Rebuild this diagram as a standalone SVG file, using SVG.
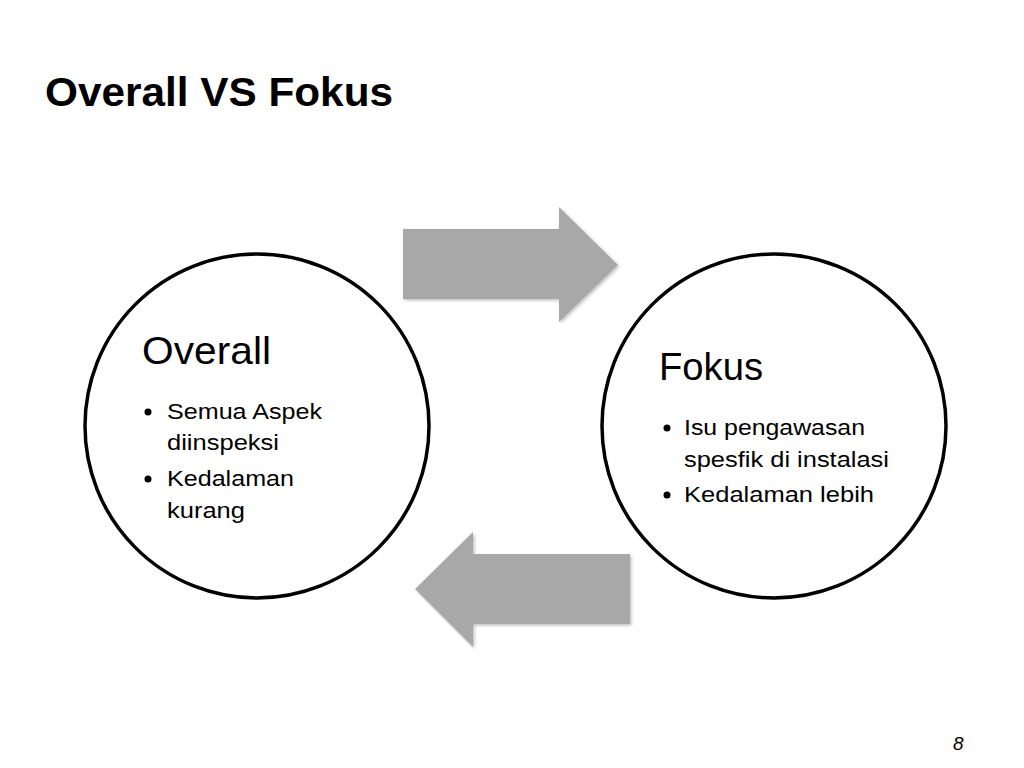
<svg xmlns="http://www.w3.org/2000/svg" width="1024" height="768" viewBox="0 0 1024 768">
<defs>
<filter id="sh" x="-10%" y="-10%" width="130%" height="130%">
<feDropShadow dx="1.5" dy="1.5" stdDeviation="1.5" flood-color="#000" flood-opacity="0.25"/>
</filter>
</defs>
<style>
.circ{fill:#fff;stroke:#000;stroke-width:3.5}
.arrow{fill:#a8a8a8;filter:url(#sh)}
.t{font-family:"Liberation Sans",Arial,sans-serif;fill:#000}
.head{font-size:39px}
.item{font-size:22px}
</style>
<rect width="1024" height="768" fill="#fff"/>
<text class="t" x="45" y="106" font-size="41" font-weight="bold" textLength="348" lengthAdjust="spacingAndGlyphs">Overall VS Fokus</text>
<g id="connectors">
<path class="arrow" d="M403,229 H559 V207 L618,265 L559,322 V299 H403 Z"/>
<path class="arrow" d="M630,554 H473 V532 L415,589 L473,647 V624 H630 Z"/>
</g>
<g id="overall">
<circle class="circ" cx="257" cy="426" r="172"/>
<text class="t head" x="142" y="364" textLength="129" lengthAdjust="spacingAndGlyphs">Overall</text>
<circle cx="148" cy="412" r="3.5"/>
<text class="t item" x="167" y="419" textLength="155" lengthAdjust="spacingAndGlyphs">Semua Aspek</text>
<text class="t item" x="167" y="450" textLength="112" lengthAdjust="spacingAndGlyphs">diinspeksi</text>
<circle cx="148" cy="479" r="3.5"/>
<text class="t item" x="167" y="486" textLength="127" lengthAdjust="spacingAndGlyphs">Kedalaman</text>
<text class="t item" x="167" y="518" textLength="78" lengthAdjust="spacingAndGlyphs">kurang</text>
</g>
<g id="fokus">
<circle class="circ" cx="774" cy="426" r="172"/>
<text class="t head" x="659" y="380" textLength="104" lengthAdjust="spacingAndGlyphs">Fokus</text>
<circle cx="667" cy="428" r="3.5"/>
<text class="t item" x="684" y="435" textLength="181" lengthAdjust="spacingAndGlyphs">Isu pengawasan</text>
<text class="t item" x="684" y="467" textLength="205" lengthAdjust="spacingAndGlyphs">spesfik di instalasi</text>
<circle cx="667" cy="495" r="3.5"/>
<text class="t item" x="684" y="502" textLength="190" lengthAdjust="spacingAndGlyphs">Kedalaman lebih</text>
</g>
<text class="t" x="953" y="750" font-size="19" font-style="italic">8</text>
</svg>
